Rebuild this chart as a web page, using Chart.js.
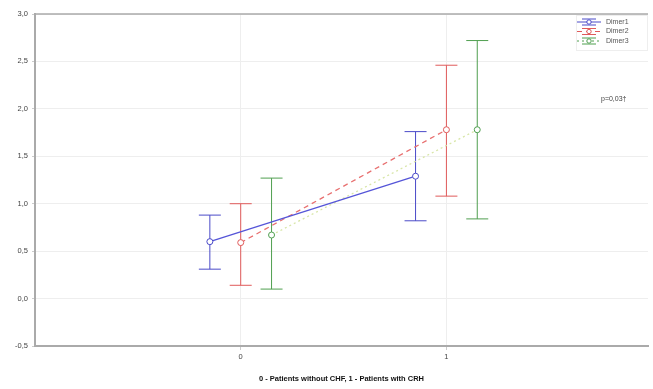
<!DOCTYPE html>
<html>
<head>
<meta charset="utf-8">
<script src="https://cdn.jsdelivr.net/npm/chart.js@4/dist/chart.umd.min.js"></script>
<style>
  html, body { margin: 0; padding: 0; background: #fff; }
  #wrap { width: 653px; height: 389px; }
</style>
</head>
<body>
<div id="wrap"><canvas id="chart"></canvas></div>
<script>
// datos
const groups = [0, 1];
const seriesNames = ['Dimer1', 'Dimer2', 'Dimer3'];
const seriesShift = [-0.15, 0, 0.15];
const dimer1Mean = [0.60, 1.29];
const dimer1Low = [0.31, 0.82];
const dimer1High = [0.88, 1.76];
const dimer2Mean = [0.59, 1.78];
const dimer2Low = [0.14, 1.08];
const dimer2High = [1.00, 2.46];
const dimer3Mean = [0.67, 1.78];
const dimer3Low = [0.10, 0.84];
const dimer3High = [1.27, 2.72];
const yTicks = [-0.5, 0, 0.5, 1, 1.5, 2, 2.5, 3];
const pLabel = 'p=0,03†';
const xTitle = '0 - Patients without CHF, 1 - Patients with CRH';

const means = [dimer1Mean, dimer2Mean, dimer3Mean];
const lows = [dimer1Low, dimer2Low, dimer3Low];
const highs = [dimer1High, dimer2High, dimer3High];
const barColors = ['#4a4ac8', '#e05a5a', '#4f9f4f'];
const lineColors = ['#5555d8', '#e87070', '#d8e6a8'];
const dashes = [[], [5, 4], [2, 3]];
const fontFam = '"Liberation Sans", Arial, sans-serif';

const datasets = seriesNames.map((name, i) => ({
    label: name,
    data: groups.map((g, k) => ({ x: g + seriesShift[i], y: means[i][k] })),
    showLine: true,
    borderColor: lineColors[i],
    borderWidth: 1.3,
    borderDash: dashes[i],
    pointRadius: 3,
    pointBorderColor: barColors[i],
    pointBackgroundColor: '#fff',
    pointBorderWidth: 1
}));

// barras de error dibujadas con las escalas del grafico
const errorBars = {
    id: 'errorBars',
    beforeDatasetsDraw(chart) {
        const { ctx, scales: { x, y } } = chart;
        ctx.save();
        ctx.lineWidth = 1;
        seriesNames.forEach((name, i) => {
            groups.forEach((g, k) => {
                const px = x.getPixelForValue(g + seriesShift[i]);
                const top = y.getPixelForValue(highs[i][k]);
                const bot = y.getPixelForValue(lows[i][k]);
                ctx.strokeStyle = barColors[i];
                ctx.beginPath();
                ctx.moveTo(px, top); ctx.lineTo(px, bot);
                ctx.moveTo(px - 11, top); ctx.lineTo(px + 11, top);
                ctx.moveTo(px - 11, bot); ctx.lineTo(px + 11, bot);
                ctx.stroke();
            });
        });
        ctx.restore();
    },
    afterDatasetsDraw(chart) {
        const { ctx, chartArea } = chart;
        ctx.save();
        // texto p
        ctx.font = '7px ' + fontFam;
        ctx.fillStyle = '#444';
        ctx.textAlign = 'left';
        ctx.textBaseline = 'middle';
        ctx.fillText(pLabel, 601, 99);
        // leyenda
        const lx = 576, ly = 15;
        ctx.fillStyle = '#fff';
        ctx.fillRect(lx, ly, chartArea.right - lx, 36);
        ctx.strokeStyle = '#eee';
        ctx.strokeRect(lx + 0.5, ly + 0.5, chartArea.right - lx - 1, 35);
        seriesNames.forEach((name, i) => {
            const yy = ly + 7 + i * 9.5;
            ctx.strokeStyle = barColors[i];
            ctx.setLineDash(dashes[i]);
            ctx.beginPath();
            ctx.moveTo(577, yy); ctx.lineTo(601, yy);
            ctx.stroke();
            ctx.setLineDash([]);
            ctx.beginPath();
            ctx.moveTo(582, yy - 3); ctx.lineTo(596, yy - 3);
            ctx.moveTo(582, yy + 3); ctx.lineTo(596, yy + 3);
            ctx.stroke();
            ctx.beginPath();
            ctx.fillStyle = '#fff';
            ctx.arc(589, yy, 2.2, 0, Math.PI * 2);
            ctx.fill(); ctx.stroke();
            ctx.fillStyle = '#555';
            ctx.font = '7px ' + fontFam;
            ctx.fillText(name, 606, yy);
        });
        // marco superior
        ctx.strokeStyle = '#aaa';
        ctx.lineWidth = 1.5;
        ctx.beginPath();
        ctx.moveTo(chartArea.left, chartArea.top);
        ctx.lineTo(chartArea.right, chartArea.top);
        ctx.stroke();
        ctx.restore();
    }
};

const ctx = document.getElementById('chart').getContext('2d');
const chart = new Chart(ctx, {
    type: 'scatter',
    data: { datasets: datasets },
    plugins: [errorBars],
    options: {
        responsive: true,
        maintainAspectRatio: false,
        animation: false,
        layout: { padding: { top: 14, right: 0, left: 0, bottom: 6 } },
        plugins: { legend: { display: false }, tooltip: { enabled: false } },
        scales: {
            x: {
                min: -1,
                max: 1.98,
                afterBuildTicks: axis => { axis.ticks = groups.map(v => ({ value: v })); },
                grid: { color: '#eeeeee', tickLength: 4, tickColor: '#ccc' },
                border: { color: '#aaa', width: 2 },
                ticks: {
                    color: '#444',
                    font: { size: 7.5, family: fontFam },
                    padding: 2
                },
                title: {
                    display: true,
                    text: xTitle,
                    color: '#111',
                    font: { size: 7.5, weight: 'bold', family: fontFam },
                    padding: { top: 11, bottom: 0 }
                }
            },
            y: {
                min: -0.5,
                max: 3,
                afterBuildTicks: axis => { axis.ticks = yTicks.map(v => ({ value: v })); },
                afterFit: axis => { axis.width = 35; },
                grid: { color: '#eeeeee', tickLength: 3, tickColor: '#ccc' },
                border: { color: '#aaa', width: 2 },
                ticks: {
                    color: '#444',
                    font: { size: 7.5, family: fontFam },
                    padding: 4,
                    callback: v => v.toFixed(1).replace('.', ',')
                }
            }
        }
    }
});
</script>
</body>
</html>
